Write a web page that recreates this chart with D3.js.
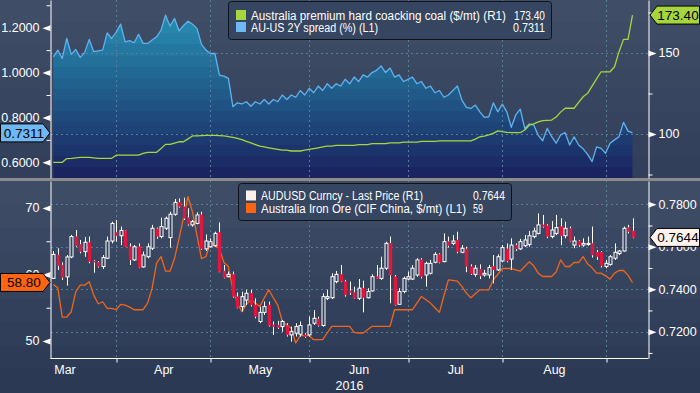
<!DOCTYPE html>
<html>
<head>
<meta charset="utf-8">
<script src="https://cdn.jsdelivr.net/npm/d3@7"></script>
<style>
  body { margin: 0; background: #2e3b56; }
  svg { display: block; font-family: "Liberation Sans", Arial, sans-serif; }
</style>
</head>
<body>
<div id="chart"></div>
<script>
// ---- data (one value per trading day, 11 Mar 2016 .. 8 Sep 2016) ----
const firstDay = new Date(2016, 2, 11);
const monthNames = ["Mar", "Apr", "May", "Jun", "Jul", "Aug", "Sep"];
const yearLabel = "2016";

// AU-US 2Y spread (%) (L1)
const spread = [
  1.07, 1.10, 1.063, 1.152, 1.081, 1.103, 1.068, 1.090, 1.148, 1.093,
  1.097, 1.100, 1.177, 1.152, 1.18, 1.216, 1.137, 1.142, 1.133, 1.171,
  1.130, 1.130, 1.145, 1.159, 1.189, 1.256, 1.207, 1.241, 1.186, 1.21,
  1.229, 1.215, 1.197, 1.126, 1.10, 1.085, 1.085, 0.989, 0.984, 0.974,
  0.848, 0.865, 0.86, 0.87, 0.85, 0.87, 0.86, 0.88, 0.86, 0.88,
  0.87, 0.90, 0.88, 0.90, 0.89, 0.92, 0.90, 0.93, 0.91, 0.94,
  0.92, 0.95, 0.93, 0.95, 0.94, 0.97, 0.95, 0.98, 0.96, 0.99,
  0.98, 1.00, 1.01, 1.03, 1.00, 1.02, 0.98, 0.99, 0.96, 0.97,
  0.98, 0.95, 0.96, 0.93, 0.94, 0.91, 0.92, 0.89, 0.90, 0.92,
  0.94, 0.877, 0.845, 0.840, 0.855, 0.825, 0.800, 0.803, 0.865, 0.825,
  0.860, 0.825, 0.756, 0.811, 0.837, 0.751, 0.771, 0.766, 0.72, 0.696,
  0.751, 0.714, 0.685, 0.722, 0.732, 0.677, 0.714, 0.677, 0.66, 0.635,
  0.603, 0.669, 0.662, 0.640, 0.685, 0.70, 0.714, 0.778, 0.739, 0.7311
];

// Australia premium hard coacking coal ($/mt) (R1)
const coal = [
  82.5, 82.5, 82.5, 84.8, 85.0, 85.3, 85.6, 85.6, 85.6, 85.3,
  85.0, 85.0, 85.0, 85.0, 86.9, 86.9, 86.9, 86.9, 86.9, 86.9,
  88.0, 88.7, 88.7, 88.7, 91.0, 93.6, 93.6, 94.4, 95.2, 95.2,
  97.0, 98.8, 98.8, 99.0, 99.2, 99.2, 99.2, 99.0, 98.8, 98.4,
  97.9, 97.3, 96.5, 95.5, 94.5, 93.5, 92.5, 92.0, 91.5, 91.0,
  90.5, 90.0, 90.0, 89.5, 89.5, 89.5, 90.0, 90.5, 91.0, 91.5,
  92.0, 92.5, 92.5, 93.0, 93.0, 93.0, 93.0, 93.0, 93.5, 93.5,
  93.5, 94.0, 94.0, 94.0, 94.0, 94.5, 94.5, 94.5, 95.0, 95.0,
  95.0, 95.0, 95.5, 95.5, 95.5, 95.5, 95.7, 95.7, 95.7, 95.7,
  95.7, 95.7, 95.7, 95.7, 96.8, 98.3, 98.7, 99.5, 100.4, 101.9,
  101.4, 101.0, 100.8, 100.8, 100.8, 102.5, 105.4, 106.2, 107.5, 108.2,
  108.4, 108.6, 110.5, 113.5, 115.9, 115.9, 115.9, 119.5, 123.0, 125.1,
  129.5, 134.0, 138.4, 138.4, 138.4, 141.5, 150.8, 158.4, 158.4, 173.4
];

// Australia Iron Ore (CIF China, $/mt) (L1)
const ironOre = [
  58.5, 58.0, 53.6, 53.6, 54.4, 57.4, 58.4, 58.4, 58.9, 56.9,
  55.6, 55.9, 54.9, 54.9, 54.7, 55.5, 55.4, 55.1, 54.7, 54.7,
  54.7, 55.7, 57.9, 61.7, 62.7, 60.5, 60.5, 62.4, 65.4, 68.5,
  71.7, 69.4, 65.9, 62.4, 62.7, 64.9, 64.3, 63.9, 61.8, 61.2,
  57.7, 55.7, 54.4, 55.5, 56.2, 55.7, 55.2, 56.5, 57.7, 56.5,
  55.4, 52.9, 52.4, 51.9, 49.7, 50.8, 50.8, 50.8, 50.2, 50.2,
  50.2, 51.2, 52.2, 52.2, 52.2, 52.2, 52.2, 51.3, 51.2, 51.2,
  51.7, 52.2, 52.2, 52.2, 52.2, 52.2, 54.7, 54.7, 54.7, 54.7,
  54.7, 55.7, 56.7, 56.2, 55.7, 55.0, 54.3, 56.8, 59.2, 59.1,
  59.0, 58.2, 57.2, 56.5, 57.1, 57.7, 57.7, 57.7, 59.2, 60.0,
  60.9, 60.9, 60.9, 60.7, 60.5, 61.2, 61.9, 61.3, 60.2, 59.7,
  59.7, 59.7, 60.4, 62.2, 61.2, 61.2, 61.8, 61.8, 62.7, 61.6,
  61.0, 60.2, 60.2, 59.8, 59.3, 60.2, 60.6, 60.6, 59.9, 58.8
];

// AUDUSD Curncy - Last Price (R1): [open, high, low, close]
const audusd = [
  [.7451,.7580,.7448,.7564],[.7561,.7593,.7491,.7511],[.7514,.7527,.7444,.7454],[.7458,.7561,.7417,.7552],
  [.7552,.7656,.7546,.7648],[.7648,.7679,.7600,.7605],[.7611,.7632,.7569,.7577],[.7577,.7646,.7553,.7621],
  [.7621,.7648,.7522,.7530],[.7533,.7538,.7478,.7527],[.7527,.7533,.7502,.7507],[.7507,.7561,.7495,.7549],
  [.7546,.7648,.7542,.7627],[.7627,.7718,.7616,.7710],[.7668,.7726,.7624,.7651],[.7652,.7695,.7608,.7677],
  [.7676,.7679,.7600,.7600],[.7600,.7616,.7514,.7538],[.7538,.7608,.7533,.7600],[.7600,.7616,.7499,.7502],
  [.7505,.7577,.7502,.7561],[.7553,.7616,.7546,.7600],[.7593,.7703,.7585,.7687],[.7684,.7690,.7637,.7648],
  [.7648,.7737,.7640,.7695],[.7687,.7742,.7679,.7734],[.7643,.7765,.7596,.7753],[.7753,.7825,.7746,.7809],
  [.7809,.7828,.7784,.7789],[.7789,.7831,.7726,.7734],[.7737,.7781,.7699,.7706],[.7703,.7726,.7695,.7718],
  [.7710,.7762,.7706,.7750],[.7750,.7765,.7585,.7590],[.7590,.7658,.7580,.7627],[.7600,.7640,.7596,.7624],
  [.7605,.7671,.7600,.7663],[.7668,.7715,.7480,.7483],[.7486,.7514,.7451,.7454],[.7459,.7483,.7456,.7470],
  [.7470,.7483,.7360,.7365],[.7365,.7385,.7310,.7313],[.7318,.7389,.7295,.7365],[.7349,.7397,.7326,.7381],
  [.7381,.7397,.7318,.7326],[.7326,.7357,.7263,.7271],[.7248,.7318,.7240,.7291],[.7291,.7342,.7279,.7318],
  [.7326,.7342,.7224,.7229],[.7232,.7248,.7185,.7224],[.7232,.7251,.7213,.7219],[.7224,.7255,.7200,.7248],
  [.7229,.7240,.7177,.7185],[.7185,.7224,.7153,.7200],[.7193,.7240,.7177,.7224],[.7188,.7248,.7177,.7229],
  [.7185,.7193,.7170,.7177],[.7185,.7271,.7177,.7232],[.7240,.7302,.7232,.7263],[.7260,.7271,.7224,.7229],
  [.7229,.7381,.7224,.7365],[.7357,.7397,.7349,.7365],[.7360,.7475,.7354,.7459],[.7436,.7486,.7428,.7470],
  [.7470,.7514,.7433,.7436],[.7436,.7444,.7365,.7373],[.7392,.7436,.7373,.7385],[.7385,.7412,.7354,.7357],
  [.7357,.7448,.7349,.7405],[.7405,.7440,.7291,.7360],[.7360,.7405,.7357,.7389],[.7392,.7470,.7389,.7459],
  [.7459,.7514,.7448,.7451],[.7451,.7553,.7444,.7499],[.7499,.7624,.7491,.7616],[.7616,.7648,.7334,.7467],
  [.7459,.7467,.7323,.7326],[.7329,.7405,.7326,.7389],[.7389,.7459,.7381,.7451],[.7448,.7483,.7444,.7459],
  [.7448,.7514,.7444,.7499],[.7467,.7546,.7459,.7538],[.7538,.7546,.7451,.7459],[.7467,.7530,.7412,.7522],
  [.7475,.7538,.7470,.7522],[.7527,.7574,.7522,.7564],[.7564,.7569,.7522,.7527],[.7530,.7663,.7527,.7624],
  [.7624,.7648,.7596,.7605],[.7616,.7655,.7608,.7627],[.7632,.7671,.7569,.7577],[.7574,.7608,.7569,.7593],
  [.7590,.7600,.7480,.7507],[.7507,.7517,.7467,.7472],[.7470,.7514,.7459,.7499],[.7495,.7517,.7448,.7462],
  [.7467,.7491,.7459,.7475],[.7467,.7514,.7451,.7502],[.7507,.7561,.7428,.7491],[.7491,.7564,.7486,.7553],
  [.7533,.7608,.7527,.7596],[.7590,.7616,.7527,.7533],[.7542,.7640,.7491,.7608],[.7608,.7616,.7580,.7590],
  [.7590,.7637,.7585,.7624],[.7605,.7655,.7600,.7632],[.7611,.7674,.7600,.7652],[.7648,.7690,.7640,.7674],
  [.7663,.7757,.7658,.7703],[.7703,.7750,.7690,.7695],[.7699,.7706,.7640,.7648],[.7648,.7721,.7640,.7679],
  [.7663,.7750,.7655,.7690],[.7695,.7734,.7608,.7652],[.7652,.7718,.7640,.7687],[.7687,.7695,.7624,.7627],
  [.7608,.7648,.7593,.7627],[.7627,.7632,.7600,.7608],[.7608,.7640,.7600,.7616],[.7611,.7648,.7605,.7616],
  [.7616,.7695,.7549,.7561],[.7574,.7585,.7538,.7553],[.7574,.7580,.7502,.7511],[.7507,.7538,.7499,.7522],
  [.7517,.7561,.7511,.7553],[.7546,.7616,.7538,.7574],[.7568,.7585,.7561,.7580],[.7580,.7695,.7577,.7687],
  [.7690,.7703,.7663,.7671],[.7674,.7734,.7640,.7644]
];

const legendTop = [
  { name: "Australia premium hard coacking coal ($/mt) (R1)", value: "173.40", color: "#a6d63e" },
  { name: "AU-US 2Y spread (%) (L1)", value: "0.7311", color: "#6fb8f4" }
];
const legendBottom = [
  { name: "AUDUSD Curncy - Last Price (R1)", value: "0.7644", color: "#fbf1ea" },
  { name: "Australia Iron Ore (CIF China, $/mt) (L1)", value: "59", color: "#ff6410" }
];

// ---- layout ----
const W = 700, H = 393;
const plotL = 51, plotR = 648;
const upper = { y0: 0, y1: 178 };
const lower = { y0: 181, y1: 358 };

const svg = d3.select('#chart').append('svg')
    .attr('width', W)
    .attr('height', H);
const defs = svg.append('defs');

// stepped (banded) vertical gradients, Bloomberg style
function bands(id, y0, y1, c0, c1, n) {
    const g = defs.append('linearGradient').attr('id', id)
        .attr('gradientUnits', 'userSpaceOnUse')
        .attr('x1', 0).attr('x2', 0).attr('y1', y0).attr('y2', y1);
    const col = d3.interpolateRgb(c0, c1);
    d3.range(n).forEach(k => {
        g.append('stop').attr('offset', k / n).attr('stop-color', col(k / (n - 1)));
        g.append('stop').attr('offset', (k + 1) / n).attr('stop-color', col(k / (n - 1)));
    });
}
bands('bgTop', 0, 178, '#404d67', '#323f5a', 8);
bands('bgBot', 181, 393, '#3f4c66', '#2c3954', 9);
bands('areaFill', 0, 178, '#2895b7', '#1a2560', 16);

svg.append('rect').attr('width', W).attr('height', H).attr('fill', '#2e3b56');
svg.append('rect').attr('y', 0).attr('width', W).attr('height', 178).attr('fill', 'url(#bgTop)');
svg.append('rect').attr('y', 181).attr('width', W).attr('height', H - 181).attr('fill', 'url(#bgBot)');

// ---- scales ----
const n = spread.length;
const x = d3.scaleLinear().domain([0, n - 1]).range([53.3, 632.5]);
const px = i => Math.round(x(i)) + 0.5;

const ySpread = d3.scaleLinear().domain([0.530, 1.3235]).range([upper.y1, upper.y0]);
const yCoal   = d3.scaleLinear().domain([72.84, 182.7]).range([upper.y1, upper.y0]);
const yOre    = d3.scaleLinear().domain([47.44, 74.06]).range([lower.y1, lower.y0]);
const yAud    = d3.scaleLinear().domain([0.70761, 0.79097]).range([lower.y1, lower.y0]);

// trading-day index of month boundaries
const weekdays = d3.timeDay.range(new Date(2016, 1, 1), new Date(2016, 10, 1))
    .filter(d => d.getDay() % 6 !== 0);
const i0 = weekdays.findIndex(d => +d === +firstDay);
const dayIndex = d => weekdays.findIndex(w => +w >= +d) - i0;
const bounds = d3.range(2, 10).map(m => dayIndex(new Date(2016, m, 1)) - 1);
const inPlot = v => x(v) > plotL + 1 && x(v) < plotR - 1;
const tickIdx = bounds.filter(inPlot);
const labelIdx = monthNames.map((m, k) => (bounds[k] + bounds[k + 1]) / 2);

// ---- top panel: spread area ----
svg.append('path')
    .datum(spread)
    .attr('fill', 'url(#areaFill)')
    .attr('d', d3.area().x((d, i) => x(i)).y0(upper.y1).y1(d => ySpread(d)));

// ---- grid ----
const grid = svg.append('g')
    .attr('stroke', '#5a7d9b')
    .attr('stroke-dasharray', '2,3')
    .attr('stroke-width', 1);
grid.selectAll('line.v')
    .data(tickIdx)
    .join('line')
    .attr('class', 'v')
    .attr('x1', d => px(d)).attr('x2', d => px(d))
    .attr('y1', upper.y0).attr('y2', lower.y1);
grid.selectAll('line.ht')
    .data([100, 150])
    .join('line')
    .attr('class', 'ht')
    .attr('x1', plotL).attr('x2', plotR)
    .attr('y1', d => Math.round(yCoal(d)) + 0.5).attr('y2', d => Math.round(yCoal(d)) + 0.5);
grid.selectAll('line.hb')
    .data([0.72, 0.74, 0.76, 0.78])
    .join('line')
    .attr('class', 'hb')
    .attr('x1', plotL).attr('x2', plotR)
    .attr('y1', d => Math.round(yAud(d)) + 0.5).attr('y2', d => Math.round(yAud(d)) + 0.5);

// panel separator
svg.append('rect').attr('y', 178).attr('width', W).attr('height', 3).attr('fill', '#8b8b8b');

const lines = svg.append('g').attr('fill', 'none').attr('stroke-width', 1.3).attr('stroke-linejoin', 'round');
lines.append('path').datum(spread)
    .attr('stroke', '#5fb2ee')
    .attr('d', d3.line().x((d, i) => x(i)).y(d => ySpread(d)));
lines.append('path').datum(coal)
    .attr('stroke', '#a6d63e')
    .attr('d', d3.line().x((d, i) => x(i)).y(d => yCoal(d)));

// ---- bottom panel: iron ore line + AUDUSD candles ----
lines.append('path').datum(ironOre)
    .attr('stroke', '#f2651a')
    .attr('d', d3.line().x((d, i) => x(i)).y(d => yOre(d)));

const candles = svg.append('g');
candles.selectAll('line.wick')
    .data(audusd)
    .join('line')
    .attr('class', 'wick')
    .attr('x1', (d, i) => px(i)).attr('x2', (d, i) => px(i))
    .attr('y1', d => yAud(d[1])).attr('y2', d => yAud(d[2]))
    .attr('stroke', '#ffffff');
candles.selectAll('rect.body')
    .data(audusd)
    .join('rect')
    .attr('class', 'body')
    .attr('x', (d, i) => px(i) - 1.5)
    .attr('width', 3)
    .attr('y', d => yAud(Math.max(d[0], d[3])))
    .attr('height', d => Math.max(1, Math.abs(yAud(d[0]) - yAud(d[3]))))
    .attr('fill', d => d[3] < d[0] ? '#e2173f' : '#36435e')
    .attr('stroke', d => d[3] < d[0] ? '#e2173f' : '#ffffff')
    .attr('stroke-width', d => d[3] < d[0] ? 0.4 : 1);

// ---- axes ----
const fontSize = 12.5;
function flagAxis(g, axisFn, scale, major, minor, fmt, side) {
    g.call(axisFn(scale).tickValues(minor).tickSize(4).tickSizeOuter(0).tickFormat(''));
    const m = g.append('g').call(axisFn(scale).tickValues(major).tickSize(0).tickSizeOuter(0)
        .tickPadding(side < 0 ? 11 : 10).tickFormat(fmt));
    m.select('.domain').remove();
    m.selectAll('.tick').append('path')
        .attr('d', `M0,-3L${8 * side},0L0,3Z`)
        .attr('fill', '#fff');
    g.selectAll('line, path').attr('stroke', '#fff');
    m.selectAll('.tick path').attr('stroke', 'none');
    g.selectAll('text').attr('fill', '#fff').attr('font-size', fontSize)
        .attr('font-family', '"Liberation Sans", Arial, sans-serif');
}
flagAxis(svg.append('g').attr('transform', `translate(${plotL - 0.5},0)`),
    d3.axisLeft, ySpread, [0.6, 0.8, 1.0, 1.2], [0.7, 0.9, 1.1, 1.3], d3.format('.4f'), -1);
flagAxis(svg.append('g').attr('transform', `translate(${plotR + 0.5},0)`),
    d3.axisRight, yCoal, [100, 150], [75, 125, 175], d3.format('d'), 1);
flagAxis(svg.append('g').attr('transform', `translate(${plotL - 0.5},0)`),
    d3.axisLeft, yOre, [50, 60, 70], [55, 65], d3.format('d'), -1);
flagAxis(svg.append('g').attr('transform', `translate(${plotR + 0.5},0)`),
    d3.axisRight, yAud, [0.72, 0.74, 0.76, 0.78], [0.71, 0.73, 0.75, 0.77], d3.format('.4f'), 1);

// time axis
const xAxis = svg.append('g').attr('transform', `translate(0,${lower.y1 + 0.5})`);
xAxis.call(d3.axisBottom(x).tickValues(tickIdx).tickSize(4).tickSizeOuter(0).tickFormat(''));
xAxis.select('.domain').attr('d', `M${plotL - 0.5},0H${plotR + 0.5}`);
xAxis.selectAll('.tick line').attr('transform', (d) => `translate(${px(d) - x(d)},0)`);
const shown = monthNames.map((m, k) => ({ m, v: labelIdx[k] })).filter(d => inPlot(d.v));
const xLab = svg.append('g').attr('transform', `translate(0,${lower.y1})`)
    .call(d3.axisBottom(x).tickValues(shown.map(d => d.v)).tickSize(0).tickPadding(7)
        .tickFormat(v => shown.find(d => d.v === v).m));
xLab.select('.domain').remove();
xAxis.selectAll('line, path').attr('stroke', '#fff');
xLab.selectAll('text').attr('fill', '#fff').attr('font-size', fontSize)
    .attr('font-family', '"Liberation Sans", Arial, sans-serif');
svg.append('text')
    .attr('x', (plotL + plotR) / 2).attr('y', 390)
    .attr('text-anchor', 'middle').attr('fill', '#fff').attr('font-size', fontSize)
    .text(yearLabel);

// ---- legends ----
function legend(items, box, swX, textX, rows, valueX, valueAnchor, widths, valueWidths) {
    const g = svg.append('g');
    g.append('rect')
        .attr('x', box[0] + 0.5).attr('y', box[1] + 0.5).attr('width', box[2]).attr('height', box[3])
        .attr('rx', 3)
        .attr('fill', '#364460').attr('fill-opacity', 0.95)
        .attr('stroke', '#0d121b').attr('stroke-width', 1);
    items.forEach((it, k) => {
        g.append('rect').attr('x', swX).attr('y', rows[k] - 9.5).attr('width', 10).attr('height', 10)
            .attr('fill', it.color);
        g.append('text').attr('x', textX).attr('y', rows[k])
            .attr('fill', '#fff').attr('font-size', 12)
            .attr('textLength', widths[k]).attr('lengthAdjust', 'spacingAndGlyphs')
            .text(it.name);
        g.append('text').attr('x', valueX).attr('y', rows[k])
            .attr('fill', '#fff').attr('font-size', 12).attr('text-anchor', valueAnchor)
            .attr('textLength', valueWidths[k]).attr('lengthAdjust', 'spacingAndGlyphs')
            .text(it.value);
    });
}
legend(legendTop, [228, 1, 323, 38], 236, 251, [19.5, 31.5], 545, 'end', [255, 127], [31, 32]);
legend(legendBottom, [238, 183, 273, 37], 246, 261, [200, 212.5], 473, 'start', [162, 205], [32, 10]);

// ---- last value flags ----
function flag(value, y, color, side) {
    const g = svg.append('g');
    const pts = side < 0
        ? [[0.5, y - 9], [43, y - 9], [50, y], [43, y + 9], [0.5, y + 9]]
        : [[650, y], [657, y - 9], [699.5, y - 9], [699.5, y + 9], [657, y + 9]];
    g.append('path')
        .attr('d', d3.line()(pts) + 'Z')
        .attr('fill', color).attr('stroke', '#000').attr('stroke-width', 1);
    g.append('text')
        .attr('x', side < 0 ? 24 : 678).attr('y', y)
        .attr('dy', '0.36em').attr('text-anchor', 'middle')
        .attr('fill', '#000').attr('font-size', 13.5)
        .text(value);
}
flag('0.7311', ySpread(spread[n - 1]), '#6fb8f4', -1);
flag('173.40', yCoal(coal[n - 1]), '#a6d63e', 1);
flag('58.80', yOre(ironOre[n - 1]), '#ff6410', -1);
flag('0.7644', yAud(audusd[n - 1][3]), '#fdf3ec', 1);
</script>
</body>
</html>
